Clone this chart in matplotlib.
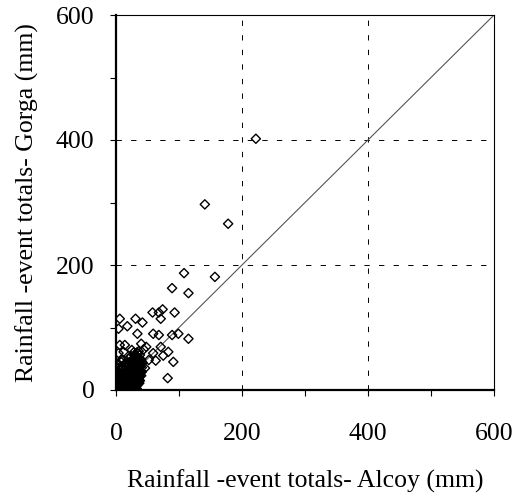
import matplotlib
matplotlib.use("Agg")
import matplotlib.pyplot as plt
from matplotlib.ticker import MultipleLocator

plt.rcParams['font.family'] = ['Liberation Serif', 'DejaVu Serif']

# Rainfall-event totals (mm): Alcoy (x) vs Gorga (y)
alcoy = [222, 141, 178, 108, 157, 89, 115, 58, 68, 74, 93, 71, 6, 31, 42, 18, 4, 34,
         59, 68, 89, 99, 115, 6, 40, 48, 71, 12, 4, 59, 83, 75, 63, 91, 82,
         1, 2, 3, 4, 5, 2, 6, 8, 3, 7, 10, 12, 9, 5, 11, 14, 15, 18, 20, 22, 25, 28,
         12, 16, 8, 4, 2, 6, 10, 13, 17, 20, 22, 24, 26, 19, 15, 12, 9, 21, 24, 27, 30,
         18, 22, 25, 28, 31, 16, 20, 24, 27, 30, 33, 26, 29, 32, 35, 22, 25, 28, 31, 34,
         37, 27, 30, 33, 36, 39, 32, 35, 38, 35, 38, 40, 30, 33, 36, 42, 40, 38, 36,
         34, 30, 26, 20, 14, 8, 1, 1, 2, 3, 1, 4, 3, 8, 10, 14, 12, 18, 20, 24,
         28, 44, 46, 52, 36, 14, 9, 25,
         1, 2, 3, 5, 6, 7, 9, 11, 13, 4, 6, 8, 10, 12, 14, 16, 3, 5, 7, 9, 11, 13, 15, 17,
         19, 6, 8, 10, 12, 14, 16, 18, 20, 22, 10, 12, 14, 16, 18, 20, 22, 24, 26, 28,
         14, 16, 18, 20, 22, 24, 26, 28, 30, 32, 17, 19, 21, 23, 25, 27, 29, 31, 33, 35,
         20, 22, 24, 26, 28, 30, 32, 34, 36, 24, 26, 28, 30, 32, 34, 36, 38, 27, 29, 31,
         33, 35, 37, 39, 30, 32, 34, 36, 38, 33, 35, 37, 39, 2, 4, 1, 3, 5, 7, 23, 27, 31,
         1, 3, 5, 7, 9, 11, 13, 15, 17, 19, 21, 23, 25, 27, 29, 31, 33,
         2, 4, 6, 8, 10, 12, 14, 16, 18, 20, 22, 24, 26, 28, 30, 32,
         4, 7, 10, 13, 16, 19, 22, 25, 28, 31, 34, 37,
         8, 11, 14, 17, 20, 23, 26, 29, 32, 35, 38,
         13, 16, 19, 22, 25, 28, 31, 34, 37, 40,
         18, 21, 24, 27, 30, 33, 36, 39, 41,
         23, 26, 29, 32, 35, 38, 41, 28, 31, 34, 37, 40]
gorga = [402, 297, 266, 187, 181, 163, 155, 124, 124, 129, 124, 114, 114, 114, 108, 102, 98, 90,
         90, 88, 88, 90, 82, 72, 74, 69, 69, 61, 59, 59, 61, 55, 47, 45, 19,
         1, 3, 1, 5, 2, 8, 6, 4, 12, 10, 8, 5, 14, 18, 12, 10, 3, 6, 2, 1, 2, 1,
         18, 15, 22, 25, 30, 28, 25, 22, 20, 16, 12, 8, 5, 25, 28, 32, 35, 22, 18, 14, 10,
         30, 28, 25, 20, 16, 36, 34, 32, 28, 25, 20, 38, 35, 30, 26, 40, 45, 42, 40, 36,
         32, 50, 48, 45, 42, 38, 55, 52, 50, 58, 56, 48, 56, 60, 62, 44, 30, 22, 15,
         8, 4, 0.5, 0.5, 1, 1, 6, 12, 18, 22, 26, 35, 42, 45, 38, 42, 48, 44, 50, 54,
         60, 65, 35, 48, 46, 72, 48, 64,
         0.5, 0.5, 0.5, 1, 0.5, 2, 1, 2, 1, 4, 3, 5, 3, 6, 4, 5, 7, 8, 9, 7, 9, 6, 8, 4,
         3, 11, 12, 13, 10, 14, 11, 9, 7, 5, 16, 17, 15, 19, 14, 18, 13, 11, 9, 6,
         21, 23, 20, 24, 22, 19, 17, 15, 12, 9, 27, 26, 28, 25, 23, 21, 19, 16, 13, 10,
         31, 33, 30, 32, 29, 27, 24, 21, 18, 36, 38, 35, 37, 34, 31, 28, 24, 41, 43, 40,
         39, 37, 33, 29, 46, 48, 45, 43, 40, 52, 50, 47, 44, 10, 14, 16, 20, 22, 26, 44, 46, 52,
         2, 3, 2, 3, 2, 3, 2, 3, 2, 3, 2, 3, 2, 3, 2, 3, 2,
         6, 7, 6, 7, 6, 7, 6, 7, 6, 7, 6, 7, 6, 7, 6, 7,
         10, 11, 10, 11, 10, 11, 10, 11, 10, 11, 10, 11,
         15, 16, 15, 16, 15, 16, 15, 16, 15, 16, 15,
         22, 23, 22, 23, 22, 23, 22, 23, 22, 23,
         29, 30, 29, 30, 29, 30, 29, 30, 29,
         36, 37, 36, 37, 36, 37, 36, 42, 43, 42, 43, 42]

ticks_major = [0, 200, 400, 600]

fig = plt.figure(figsize=(5.31, 4.99), dpi=100)
ax = fig.add_axes([116 / 531, 1 - 390 / 499, 378 / 531, 375 / 499])

ax.plot([0, 600], [0, 600], color='#555555', linewidth=0.8, zorder=2)
ax.scatter(alcoy, gorga, marker='D', s=22, facecolors='none', edgecolors='black',
           linewidths=1.0, zorder=3)

ax.set_xlim(0, 600)
ax.set_ylim(0, 600)
ax.xaxis.set_minor_locator(MultipleLocator(100))
ax.yaxis.set_minor_locator(MultipleLocator(100))
ax.set_xticks(ticks_major)
ax.set_yticks(ticks_major)

for v in [200, 400]:
    ax.axvline(v, color='black', linewidth=0.7, linestyle=(0, (5.5, 9.5)), zorder=1)
    ax.axhline(v, color='black', linewidth=0.7, linestyle=(0, (5.5, 9.5)), zorder=1)

ax.tick_params(axis='both', which='both', direction='out', length=4.5, width=0.8,
               labelsize=18.5)
ax.tick_params(axis='x', which='major', pad=19)
ax.tick_params(axis='y', which='major', pad=11)
ax.spines['left'].set_linewidth(1.6)
ax.spines['bottom'].set_linewidth(1.6)
ax.spines['top'].set_linewidth(0.8)
ax.spines['right'].set_linewidth(0.8)

ax.set_xlabel('Rainfall -event totals- Alcoy (mm)', fontsize=18.5, labelpad=18)
ax.set_ylabel('Rainfall -event totals- Gorga (mm)', fontsize=18.5, labelpad=12)

fig.savefig('out.png', dpi=100)
